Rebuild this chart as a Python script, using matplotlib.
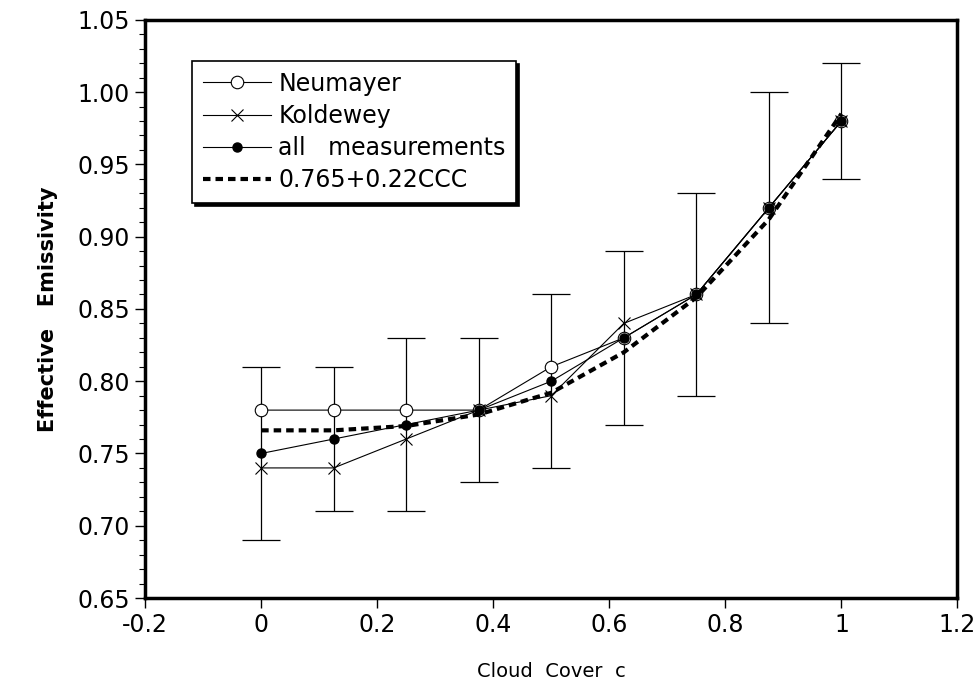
import numpy as np
import matplotlib
matplotlib.use("Agg")
import matplotlib.pyplot as plt
from matplotlib.ticker import MultipleLocator

# cloud cover classes
cloud_cover = [0, 0.125, 0.25, 0.375, 0.5, 0.625, 0.75, 0.875, 1.0]

# effective emissivity
neumayer = [0.78, 0.78, 0.78, 0.78, 0.81, 0.83, 0.86, 0.92, 0.98]
koldewey = [0.74, 0.74, 0.76, 0.78, 0.79, 0.84, 0.86, 0.92, 0.98]
all_meas = [0.75, 0.76, 0.77, 0.78, 0.80, 0.83, 0.86, 0.92, 0.98]
all_err = [0.06, 0.05, 0.06, 0.05, 0.06, 0.06, 0.07, 0.08, 0.04]
fit_line = [0.766, 0.766, 0.769, 0.777, 0.792, 0.820, 0.858, 0.912, 0.985]

labels = ["Neumayer", "Koldewey", "all   measurements", "0.765+0.22CCC"]

fig = plt.figure(figsize=(9.74, 6.85), dpi=100)
ax = fig.add_axes([0.149, 0.127, 0.834, 0.844])

ax.errorbar(cloud_cover, all_meas, yerr=all_err, fmt="none", ecolor="black",
            elinewidth=0.9, capsize=14, capthick=0.9, zorder=1)
ax.plot(cloud_cover, neumayer, color="black", lw=0.8, marker="o", ms=9,
        mfc="white", mec="black", mew=0.8, label=labels[0], zorder=3)
ax.plot(cloud_cover, koldewey, color="black", lw=0.8, marker="x", ms=9,
        mew=0.8, label=labels[1], zorder=3)
ax.plot(cloud_cover, all_meas, color="black", lw=0.8, marker="o", ms=6.5,
        mfc="black", mec="black", label=labels[2], zorder=4)
ax.plot(cloud_cover, fit_line, color="black", lw=3, linestyle=(0, (1.8, 1.2)),
        label=labels[3], zorder=5)

ax.set_xlim(-0.2, 1.2)
ax.set_ylim(0.65, 1.05)
ax.yaxis.set_minor_locator(MultipleLocator(0.01))
ax.set_xticks([-0.2, 0, 0.2, 0.4, 0.6, 0.8, 1.0, 1.2])
ax.set_xticklabels(["-0.2", "0", "0.2", "0.4", "0.6", "0.8", "1", "1.2"])
yt = np.arange(0.65, 1.051, 0.05)
ax.set_yticks(yt)
ax.set_yticklabels(["%.2f" % v for v in yt])

ax.tick_params(axis="both", which="major", direction="out", length=7,
               width=1, labelsize=17, pad=4)
ax.tick_params(axis="y", which="minor", direction="out", length=4, width=0.8)
for s in ax.spines.values():
    s.set_linewidth(2.5)

ax.set_xlabel("Cloud  Cover  c", fontsize=14, labelpad=18)
ax.set_ylabel("Effective   Emissivity", fontsize=15, fontweight="bold",
              labelpad=14)

leg = ax.legend(loc="upper left", bbox_to_anchor=(0.058, 0.929), fontsize=17,
                frameon=True, fancybox=False, shadow={"color": "black", "alpha": 1},
                handlelength=2.9, borderpad=0.45, labelspacing=0.35,
                handletextpad=0.3, borderaxespad=0)
leg.get_frame().set_edgecolor("black")
leg.get_frame().set_linewidth(1.2)
leg.get_frame().set_alpha(1)

fig.savefig("out.png", dpi=100)
